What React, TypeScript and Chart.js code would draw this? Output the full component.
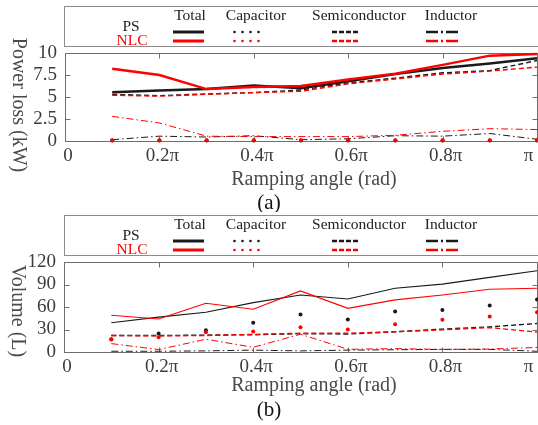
import React, { useEffect, useRef } from 'react';
import { Chart, registerables } from 'chart.js';

Chart.register(...registerables);

// ---------- data (x in units of π) ----------
const angles = [0.1, 0.2, 0.3, 0.4, 0.5, 0.6, 0.7, 0.8, 0.9, 1.0];
const xTickValues = [0, 0.2, 0.4, 0.6, 0.8, 1];
const xTickLabels = ['0', '0.2π', '0.4π', '0.6π', '0.8π', 'π\u2003\u2009'];

const lossTickValues = [0, 2.5, 5, 7.5, 10];
const lossTickLabels = ['0', '2.5', '5', '7.5', '10'];
const volumeTickValues = [0, 30, 60, 90, 120];
const volumeTickLabels = ['0', '30', '60', '90', '120'];

const legendHeaders = ['Total', 'Capacitor', 'Semiconductor', 'Inductor'];
const legendRows = ['PS', 'NLC'];

// Power loss (kW)
const psLossTotal = [5.55, 5.75, 5.9, 6.3, 6.0, 6.8, 7.6, 8.3, 8.8, 9.4];
const nlcLossTotal = [8.2, 7.5, 5.9, 6.15, 6.25, 7.0, 7.65, 8.65, 9.7, 9.9];
const psLossCap = [0.05, 0.05, 0.05, 0.05, 0.05, 0.05, 0.05, 0.05, 0.05, 0.05];
const nlcLossCap = [0.08, 0.08, 0.08, 0.08, 0.08, 0.08, 0.08, 0.08, 0.08, 0.08];
const psLossSemi = [5.3, 5.15, 5.35, 5.5, 5.8, 6.6, 7.15, 7.75, 8.0, 9.15];
const nlcLossSemi = [5.2, 5.1, 5.3, 5.5, 5.65, 6.5, 7.05, 7.6, 7.95, 8.4];
const psLossInd = [0.15, 0.55, 0.45, 0.6, 0.15, 0.25, 0.6, 0.55, 0.85, 0.2];
const nlcLossInd = [2.8, 2.05, 0.55, 0.5, 0.5, 0.5, 0.65, 1.1, 1.4, 1.3];

// Volume (L)
const psVolTotal = [39, 46.6, 53, 65.8, 76, 70.7, 85, 90.4, 99.4, 108.3];
const nlcVolTotal = [49, 44, 65, 57, 81.5, 58.2, 69.4, 76, 83.7, 85];
const psVolCap = [17, 24.7, 29, 39, 50, 43.5, 54, 56, 62, 70];
const nlcVolCap = [16.6, 19.7, 26.5, 27.4, 33, 30, 37, 43, 47.5, 53];
const psVolSemi = [22, 22, 22.5, 23, 24.5, 24, 27, 30.5, 33.5, 38];
const nlcVolSemi = [22, 21.5, 22, 23.5, 25, 25, 27, 29.5, 32.5, 26.5];
const psVolInd = [1, 1, 1.5, 2.5, 1.5, 2.5, 3, 3.5, 3.5, 1];
const nlcVolInd = [11.2, 3.2, 17, 6.3, 23.7, 3.6, 4.5, 3.5, 4, 6];

// ---------- styles ----------
const BLACK = '#1a1a1a';
const RED = '#ff0000';
const SERIF = '"Liberation Serif", "Times New Roman", serif';
const AXIS_COLOR = '#6e6e6e';
const TICK_COLOR = '#3c3c3c';
const TITLE_COLOR = '#4a4a4a';
const SEMI_DASH = [5, 3];
const IND_DASH = [7, 3, 1.5, 3];

const CANVAS_W = 541;

type PanelCfg = {
  top: number;
  height: number;
  chartLeft: number;
  chartTop: number;
  chartBottom: number;
  yMax: number;
  yTicks: number[];
  yTickLabels: string[];
  yTitle: string;
  yTitleX: number;
  yTitleY: number;
  xTitleY: number;
  label: string;
  labelY: number;
  totalWidth: number;
  series: { ps: number[][]; nlc: number[][] };
};

const panels: PanelCfg[] = [
  {
    top: 0, height: 212, chartLeft: 65, chartTop: 53, chartBottom: 141,
    yMax: 10, yTicks: lossTickValues, yTickLabels: lossTickLabels,
    yTitle: 'Power loss (kW)', yTitleX: 18, yTitleY: 105, xTitleY: 180, label: '(a)', labelY: 203,
    totalWidth: 2.5,
    series: {
      ps: [psLossTotal, psLossCap, psLossSemi, psLossInd],
      nlc: [nlcLossTotal, nlcLossCap, nlcLossSemi, nlcLossInd],
    },
  },
  {
    top: 209, height: 216, chartLeft: 64, chartTop: 53, chartBottom: 143,
    yMax: 120, yTicks: volumeTickValues, yTickLabels: volumeTickLabels,
    yTitle: 'Volume (L)', yTitleX: 17, yTitleY: 102, xTitleY: 177, label: '(b)', labelY: 201,
    totalWidth: 1.2,
    series: {
      ps: [psVolTotal, psVolCap, psVolSemi, psVolInd],
      nlc: [nlcVolTotal, nlcVolCap, nlcVolSemi, nlcVolInd],
    },
  },
];

function makeDatasets(p: PanelCfg) {
  const build = (vals: number[][], color: string) => {
    const pts = (arr: number[]) => arr.map((y, i) => ({ x: angles[i], y }));
    return [
      { data: pts(vals[0]), borderColor: color, borderWidth: p.totalWidth, pointRadius: 0, clip: 6 },
      { data: pts(vals[1]), showLine: false, borderColor: color, backgroundColor: color, pointRadius: 2, pointBorderWidth: 0, clip: 6 },
      { data: pts(vals[2]), borderColor: color, borderWidth: 1.4, borderDash: SEMI_DASH, pointRadius: 0, clip: 6 },
      { data: pts(vals[3]), borderColor: color, borderWidth: 1, borderDash: IND_DASH, pointRadius: 0, clip: 6 },
    ];
  };
  // earlier datasets are drawn on top -> put NLC (red) first
  return [...build(p.series.nlc, RED), ...build(p.series.ps, BLACK)];
}

function drawLegend(ctx: CanvasRenderingContext2D) {
  ctx.save();
  ctx.strokeStyle = '#8c8c8c';
  ctx.lineWidth = 1;
  ctx.strokeRect(64.5, 6.5, 600, 40);
  ctx.font = `15.5px ${SERIF}`;
  ctx.textAlign = 'center';
  ctx.textBaseline = 'middle';
  ctx.fillStyle = '#222';
  const colX = [190, 256, 359, 451];
  legendHeaders.forEach((h, i) => ctx.fillText(h, colX[i], 16));
  ctx.fillStyle = '#222';
  ctx.fillText(legendRows[0], 131, 27);
  ctx.fillStyle = RED;
  ctx.fillText(legendRows[1], 132, 40.5);

  const rows = [{ y: 32, c: BLACK }, { y: 41, c: RED }];
  rows.forEach(({ y, c }) => {
    ctx.strokeStyle = c;
    ctx.fillStyle = c;
    // total
    ctx.setLineDash([]);
    ctx.lineWidth = 3;
    ctx.beginPath(); ctx.moveTo(173, y); ctx.lineTo(204, y); ctx.stroke();
    // capacitor dots
    [234.5, 242.5, 250.5, 258.5].forEach((x) => {
      ctx.beginPath(); ctx.arc(x, y, 1.3, 0, Math.PI * 2); ctx.fill();
    });
    // semiconductor
    ctx.lineWidth = 2.5;
    ctx.setLineDash([5, 2]);
    ctx.beginPath(); ctx.moveTo(332, y); ctx.lineTo(360, y); ctx.stroke();
    // inductor
    ctx.setLineDash([12, 3, 2, 3, 12]);
    ctx.beginPath(); ctx.moveTo(426, y); ctx.lineTo(458, y); ctx.stroke();
    ctx.setLineDash([]);
  });
  ctx.restore();
}

function Panel({ cfg }: { cfg: PanelCfg }) {
  const ref = useRef<HTMLCanvasElement | null>(null);
  useEffect(() => {
    const canvas = ref.current;
    if (!canvas) return;
    const chartRight = 539;
    const decor = {
      id: 'decor',
      beforeDatasetsDraw(chart: any) {
        const { ctx, chartArea: ca, scales } = chart;
        ctx.save();
        ctx.strokeStyle = AXIS_COLOR;
        ctx.lineWidth = 1;
        const L = Math.round(ca.left) + 0.5;
        const T = Math.round(ca.top) + 0.5;
        const R = Math.round(ca.right) + 0.5;
        const B = Math.round(ca.bottom) + 0.5;
        ctx.strokeRect(L, T, R - L, B - T);
        ctx.beginPath();
        scales.x.ticks.forEach((t: any) => {
          const x = Math.round(scales.x.getPixelForValue(t.value)) + 0.5;
          ctx.moveTo(x, B); ctx.lineTo(x, B - 5);
          ctx.moveTo(x, T); ctx.lineTo(x, T + 5);
        });
        scales.y.ticks.forEach((t: any) => {
          const y = Math.round(scales.y.getPixelForValue(t.value)) + 0.5;
          ctx.moveTo(L, y); ctx.lineTo(L + 5, y);
          ctx.moveTo(R, y); ctx.lineTo(R - 5, y);
        });
        ctx.stroke();
        ctx.restore();
      },
      afterDraw(chart: any) {
        const { ctx } = chart;
        drawLegend(ctx);
        ctx.save();
        ctx.fillStyle = TITLE_COLOR;
        ctx.font = `20px ${SERIF}`;
        ctx.textAlign = 'center';
        ctx.textBaseline = 'middle';
        ctx.fillText('Ramping angle (rad)', 314, cfg.xTitleY);
        ctx.fillStyle = '#111';
        ctx.font = `21px ${SERIF}`;
        ctx.fillText(cfg.label, 269, cfg.labelY);
        ctx.translate(cfg.yTitleX, cfg.yTitleY);
        ctx.rotate(Math.PI / 2);
        ctx.fillStyle = TITLE_COLOR;
        ctx.font = `20px ${SERIF}`;
        ctx.fillText(cfg.yTitle, 0, 0);
        ctx.restore();
      },
    };

    const chart = new Chart(canvas, {
      type: 'line',
      data: { datasets: makeDatasets(cfg) as any },
      options: {
        responsive: false,
        animation: false,
        devicePixelRatio: 1,
        layout: { padding: { top: cfg.chartTop, right: CANVAS_W - chartRight, left: 0, bottom: 0 } },
        plugins: { legend: { display: false }, tooltip: { enabled: false }, title: { display: false } },
        elements: { line: { tension: 0 } },
        scales: {
          x: {
            type: 'linear',
            min: 0,
            max: 1,
            grid: { display: false, drawTicks: false },
            border: { display: false },
            afterBuildTicks: (scale: any) => {
              scale.ticks = xTickValues.map((v) => ({ value: v }));
            },
            afterFit: (scale: any) => {
              scale.height = cfg.height - cfg.chartBottom;
              scale.paddingLeft = 0;
              scale.paddingRight = 0;
            },
            ticks: {
              padding: 4,
              labelOffset: 3,
              maxRotation: 0,
              autoSkip: false,
              color: TICK_COLOR,
              font: { family: SERIF, size: 19 },
              callback: (v: any, i: number) => xTickLabels[i],
            },
          },
          y: {
            type: 'linear',
            min: 0,
            max: cfg.yMax,
            grid: { display: false, drawTicks: false },
            border: { display: false },
            afterBuildTicks: (scale: any) => {
              scale.ticks = cfg.yTicks.map((v) => ({ value: v }));
            },
            afterFit: (scale: any) => {
              scale.width = cfg.chartLeft;
              scale.paddingTop = 0;
              scale.paddingBottom = 0;
            },
            ticks: {
              padding: 8,
              autoSkip: false,
              color: TICK_COLOR,
              font: { family: SERIF, size: 19 },
              callback: (v: any, i: number) => cfg.yTickLabels[i],
            },
          },
        },
      },
      plugins: [decor],
    });
    return () => chart.destroy();
  }, [cfg]);

  return (
    <canvas
      ref={ref}
      width={CANVAS_W}
      height={cfg.height}
      style={{ position: 'absolute', left: 0, top: cfg.top, width: CANVAS_W, height: cfg.height }}
    />
  );
}

export default function App() {
  return (
    <div
      style={{
        position: 'fixed',
        left: 0,
        top: 0,
        width: 538,
        height: 425,
        overflow: 'hidden',
        background: '#fff',
      }}
    >
      {panels.map((p, i) => (
        <Panel key={i} cfg={p} />
      ))}
    </div>
  );
}
